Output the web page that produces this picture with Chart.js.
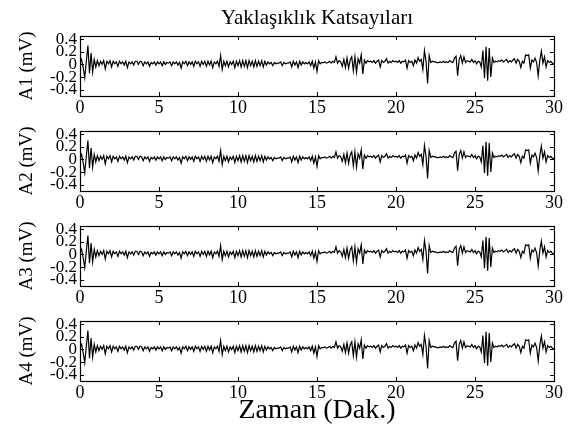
<!DOCTYPE html>
<html>
<head>
<meta charset="utf-8">
<script src="https://cdn.jsdelivr.net/npm/chart.js@4.4.1/dist/chart.umd.min.js"></script>
<style>
  html, body { margin: 0; padding: 0; background: #fff; }
  #wrap { position: relative; width: 571px; height: 430px; background: #fff; overflow: hidden; }
  #wrap canvas { position: absolute; left: 0; }
</style>
</head>
<body>
<div id="wrap">
  <canvas id="c1"></canvas>
  <canvas id="c2"></canvas>
  <canvas id="c3"></canvas>
  <canvas id="c4"></canvas>
</div>
<script>
// ---- data (all four panels show the same trace) ----
const chartTitle = "Yaklaşıklık Katsayıları";
const xAxisTitle = "Zaman (Dak.)";
const panelLabels = ["A1 (mV)", "A2 (mV)", "A3 (mV)", "A4 (mV)"];
const xTickValues = [0, 5, 10, 15, 20, 25, 30];
const yTickValues = [-0.4, -0.2, 0, 0.2, 0.4];
const sampleStepMin = 0.1;
// one value per 0.1 min, 0.0 ... 30.0
const approxValues = [
  0.03, 0.08, -0.05, -0.21, 0.05, 0.30, -0.14, 0.18, -0.12, 0.08,
  -0.04, 0.06, -0.02, 0.05, 0.00, 0.06, -0.07, 0.05, 0.01, 0.06,
  -0.04, 0.05, 0.01, 0.04, -0.03, 0.05, 0.01, 0.04, -0.01, 0.05,
  -0.05, 0.04, 0.01, 0.04, -0.01, 0.05, 0.05, 0.00, 0.05, 0.04,
  -0.02, 0.04, 0.01, 0.04, -0.03, 0.03, 0.01, 0.04, -0.01, 0.04,
  0.01, 0.04, -0.02, 0.04, 0.00, 0.03, 0.02, 0.04, -0.02, 0.04,
  0.01, 0.04, -0.01, 0.03, -0.06, 0.04, 0.01, 0.05, -0.02, 0.04,
  0.00, 0.04, -0.03, 0.05, 0.01, 0.04, -0.03, 0.05, 0.00, 0.05,
  -0.03, 0.05, -0.01, 0.05, -0.05, 0.04, 0.01, 0.05, -0.03, 0.14,
  -0.08, 0.05, -0.02, 0.05, -0.04, 0.04, 0.00, 0.05, -0.05, 0.05,
  -0.02, 0.06, -0.04, 0.06, -0.03, 0.06, -0.05, 0.06, -0.02, 0.05,
  -0.04, 0.06, -0.03, 0.05, -0.02, 0.06, -0.04, 0.05, -0.01, 0.04,
  0.01, 0.03, -0.02, 0.03, 0.01, 0.02, 0.02, 0.04, -0.02, 0.03,
  0.01, 0.02, 0.02, 0.04, -0.04, 0.05, -0.01, 0.04, -0.05, 0.05,
  -0.01, 0.04, 0.01, 0.03, 0.01, 0.04, -0.02, 0.05, -0.06, 0.04,
  -0.11, 0.06, 0.01, 0.03, 0.03, 0.04, 0.02, 0.03, 0.05, 0.02,
  0.05, 0.03, 0.12, 0.02, 0.06, 0.04, -0.03, 0.08, -0.05, 0.10,
  -0.06, 0.07, 0.12, -0.10, 0.12, -0.12, 0.09, 0.02, 0.15, -0.15,
  0.07, 0.02, 0.06, 0.04, 0.05, 0.03, 0.06, 0.02, 0.05, 0.07,
  -0.04, 0.06, 0.03, 0.05, 0.09, 0.02, 0.05, 0.03, 0.06, 0.04,
  0.05, 0.03, 0.06, 0.02, 0.05, 0.04, 0.07, -0.06, 0.06, 0.03,
  0.05, -0.02, 0.07, 0.02, 0.11, 0.05, 0.08, -0.08, 0.22, 0.05,
  -0.30, 0.14, 0.03, 0.05, 0.04, 0.04, 0.03, 0.03, 0.04, 0.03,
  0.05, 0.03, 0.04, 0.03, 0.06, 0.04, 0.03, 0.10, 0.13, -0.18,
  0.08, 0.14, 0.02, 0.12, 0.03, 0.06, 0.05, 0.04, 0.08, 0.03,
  0.06, 0.01, 0.05, 0.04, -0.04, 0.22, -0.22, 0.28, -0.26, 0.26,
  -0.20, 0.10, 0.03, 0.05, 0.04, 0.06, 0.05, 0.07, 0.04, 0.06,
  0.08, 0.03, 0.06, 0.04, 0.07, 0.09, 0.02, 0.08, 0.05, -0.05,
  0.05, 0.02, 0.15, 0.14, 0.15, -0.06, 0.07, 0.04, 0.10, 0.03,
  -0.18, 0.06, 0.21, 0.02, 0.12, -0.04, 0.06, 0.03, 0.05, 0.02,
  0.01
];
const panelSeries = [approxValues, approxValues, approxValues, approxValues];

// ---- layout ----
const W = 571;
const plotLeft = 80, plotRight = 554;
const panelTops = [36, 131, 226, 321];
const panelH = 60;
const FONT = "'Liberation Serif', 'Times New Roman', serif";

const framePlugin = {
  id: 'frame',
  afterDatasetsDraw(chart) {
    const {ctx, chartArea: a, scales} = chart;
    ctx.save();
    ctx.strokeStyle = '#000';
    ctx.lineWidth = 1;
    ctx.beginPath();
    const tl = 4;
    scales.x.ticks.forEach(t => {
      const px = Math.round(scales.x.getPixelForValue(t.value)) + 0.5;
      ctx.moveTo(px, a.bottom); ctx.lineTo(px, a.bottom - tl);
      ctx.moveTo(px, a.top); ctx.lineTo(px, a.top + tl);
    });
    scales.y.ticks.forEach(t => {
      const py = Math.round(scales.y.getPixelForValue(t.value)) + 0.5;
      ctx.moveTo(a.left, py); ctx.lineTo(a.left + tl, py);
      ctx.moveTo(a.right, py); ctx.lineTo(a.right - tl, py);
    });
    ctx.stroke();
    ctx.lineWidth = 1.2;
    ctx.strokeRect(Math.round(a.left) + 0.5, Math.round(a.top) + 0.5,
                   Math.round(a.right - a.left), Math.round(a.bottom - a.top));
    ctx.restore();
  }
};

function makePanel(idx) {
  const isFirst = idx === 0, isLast = idx === 3;
  const padTop = isFirst ? panelTops[0] : 10;
  const canvasTop = panelTops[idx] - padTop;
  const xAxisH = isLast ? 48 : 22;
  const canvasH = padTop + panelH + xAxisH;
  const cv = document.getElementById('c' + (idx + 1));
  cv.style.top = canvasTop + 'px';
  cv.style.width = W + 'px';
  cv.style.height = canvasH + 'px';
  cv.width = W; cv.height = canvasH;

  const pts = panelSeries[idx].map((v, i) => ({x: i * sampleStepMin, y: v}));

  return new Chart(cv, {
    type: 'line',
    data: { datasets: [{ data: pts, borderColor: '#000', borderWidth: 1.2,
      pointRadius: 0, tension: 0, fill: false }] },
    options: {
      responsive: false, animation: false, devicePixelRatio: 1,
      layout: { padding: { left: 0, right: W - plotRight, top: isFirst ? 0 : padTop, bottom: 0 } },
      plugins: {
        legend: { display: false }, tooltip: { enabled: false },
        title: isFirst ? { display: true, text: chartTitle, fullSize: false,
          color: '#000', font: { family: FONT, size: 21, weight: 'normal', lineHeight: 1.2 },
          padding: { top: 5.4, bottom: 5.4 } } : { display: false }
      },
      scales: {
        x: {
          type: 'linear', min: 0, max: 30,
          afterBuildTicks: s => { s.ticks = xTickValues.map(v => ({value: v})); },
          afterFit: s => { s.height = xAxisH; },
          grid: { display: false, drawTicks: false }, border: { display: false },
          ticks: { color: '#000', font: { family: FONT, size: 18 }, padding: 1,
            maxRotation: 0, autoSkip: false },
          title: isLast ? { display: true, text: xAxisTitle, color: '#000',
            font: { family: FONT, size: 28 }, padding: { top: 0, bottom: 1.2 } } : { display: false }
        },
        y: {
          min: -0.5, max: 0.45,
          afterBuildTicks: s => { s.ticks = yTickValues.map(v => ({value: v})); },
          afterFit: s => { s.width = plotLeft; },
          grid: { display: false, drawTicks: false }, border: { display: false },
          ticks: { color: '#000', font: { family: FONT, size: 17, lineHeight: 0.75 }, padding: 3,
            autoSkip: false, callback: v => String(Math.round(v * 10) / 10) },
          title: { display: true, text: panelLabels[idx], color: '#000',
            font: { family: FONT, size: 19 }, padding: { top: 16, bottom: 0 } }
        }
      }
    },
    plugins: [framePlugin]
  });
}
for (let i = 0; i < 4; i++) makePanel(i);
</script>
</body>
</html>
